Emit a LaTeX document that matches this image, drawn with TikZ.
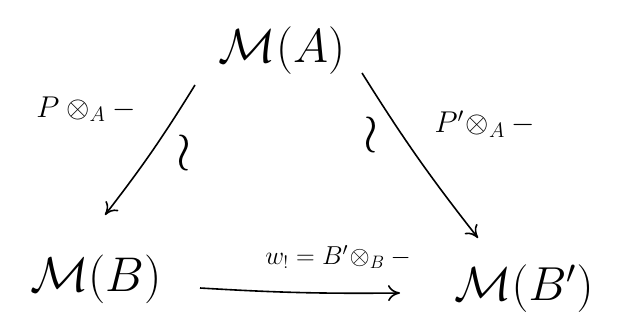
\documentclass[tikz,border=0pt]{standalone}
\usepackage{amsmath}
\usetikzlibrary{arrows.meta}
% enlarge math beyond the largest fixed font size
\newcommand{\bigmath}[2]{\scalebox{#1}{\huge$#2$}}
\begin{document}
\begin{tikzpicture}[x=1pt,y=1pt,
  obj/.style={inner sep=0pt},
  lbl/.style={inner sep=0pt},
  mor/.style={line width=1.6pt, -{To[length=12pt,width=16pt]}}]
\useasboundingbox (0,0) rectangle (621,329);
% the three module categories
\node[obj] (MA)  at (282,278) {\bigmath{2.3}{\mathcal{M}(A)}};
\node[obj] (MB)  at (96,50)   {\bigmath{2.35}{\mathcal{M}(B)}};
\node[obj] (MBp) at (524,40)  {\bigmath{2.3}{\mathcal{M}(B')}};
% points where the functor arrows start and end
\coordinate (a1) at (195,244);
\coordinate (b1) at (105,114);
\coordinate (a2) at (362,256);
\coordinate (b2) at (478,91);
\coordinate (b3) at (200,41);
\coordinate (b4) at (400,36);
% the functors between them
\draw[mor] (a1) to[bend left=3] (b1);
\draw[mor] (a2) to[bend right=3] (b2);
\draw[mor] (b3) to[bend right=2] (b4);
% labels
\node[lbl] (l1) at (86,220) {\bigmath{1.45}{P\otimes_A -}};
\node[lbl] (i1) at (184,176) {\bigmath{2.6}{\wr}};
\node[lbl] (i2) at (371,194) {\bigmath{2.6}{\wr}};
\node[lbl] (l2) at (485,205) {\bigmath{1.45}{P'\!\otimes_A -}};
\node[lbl] (l3) at (338,72) {\bigmath{1.25}{w_! = B'\!\otimes_B -}};
\end{tikzpicture}
\end{document}
